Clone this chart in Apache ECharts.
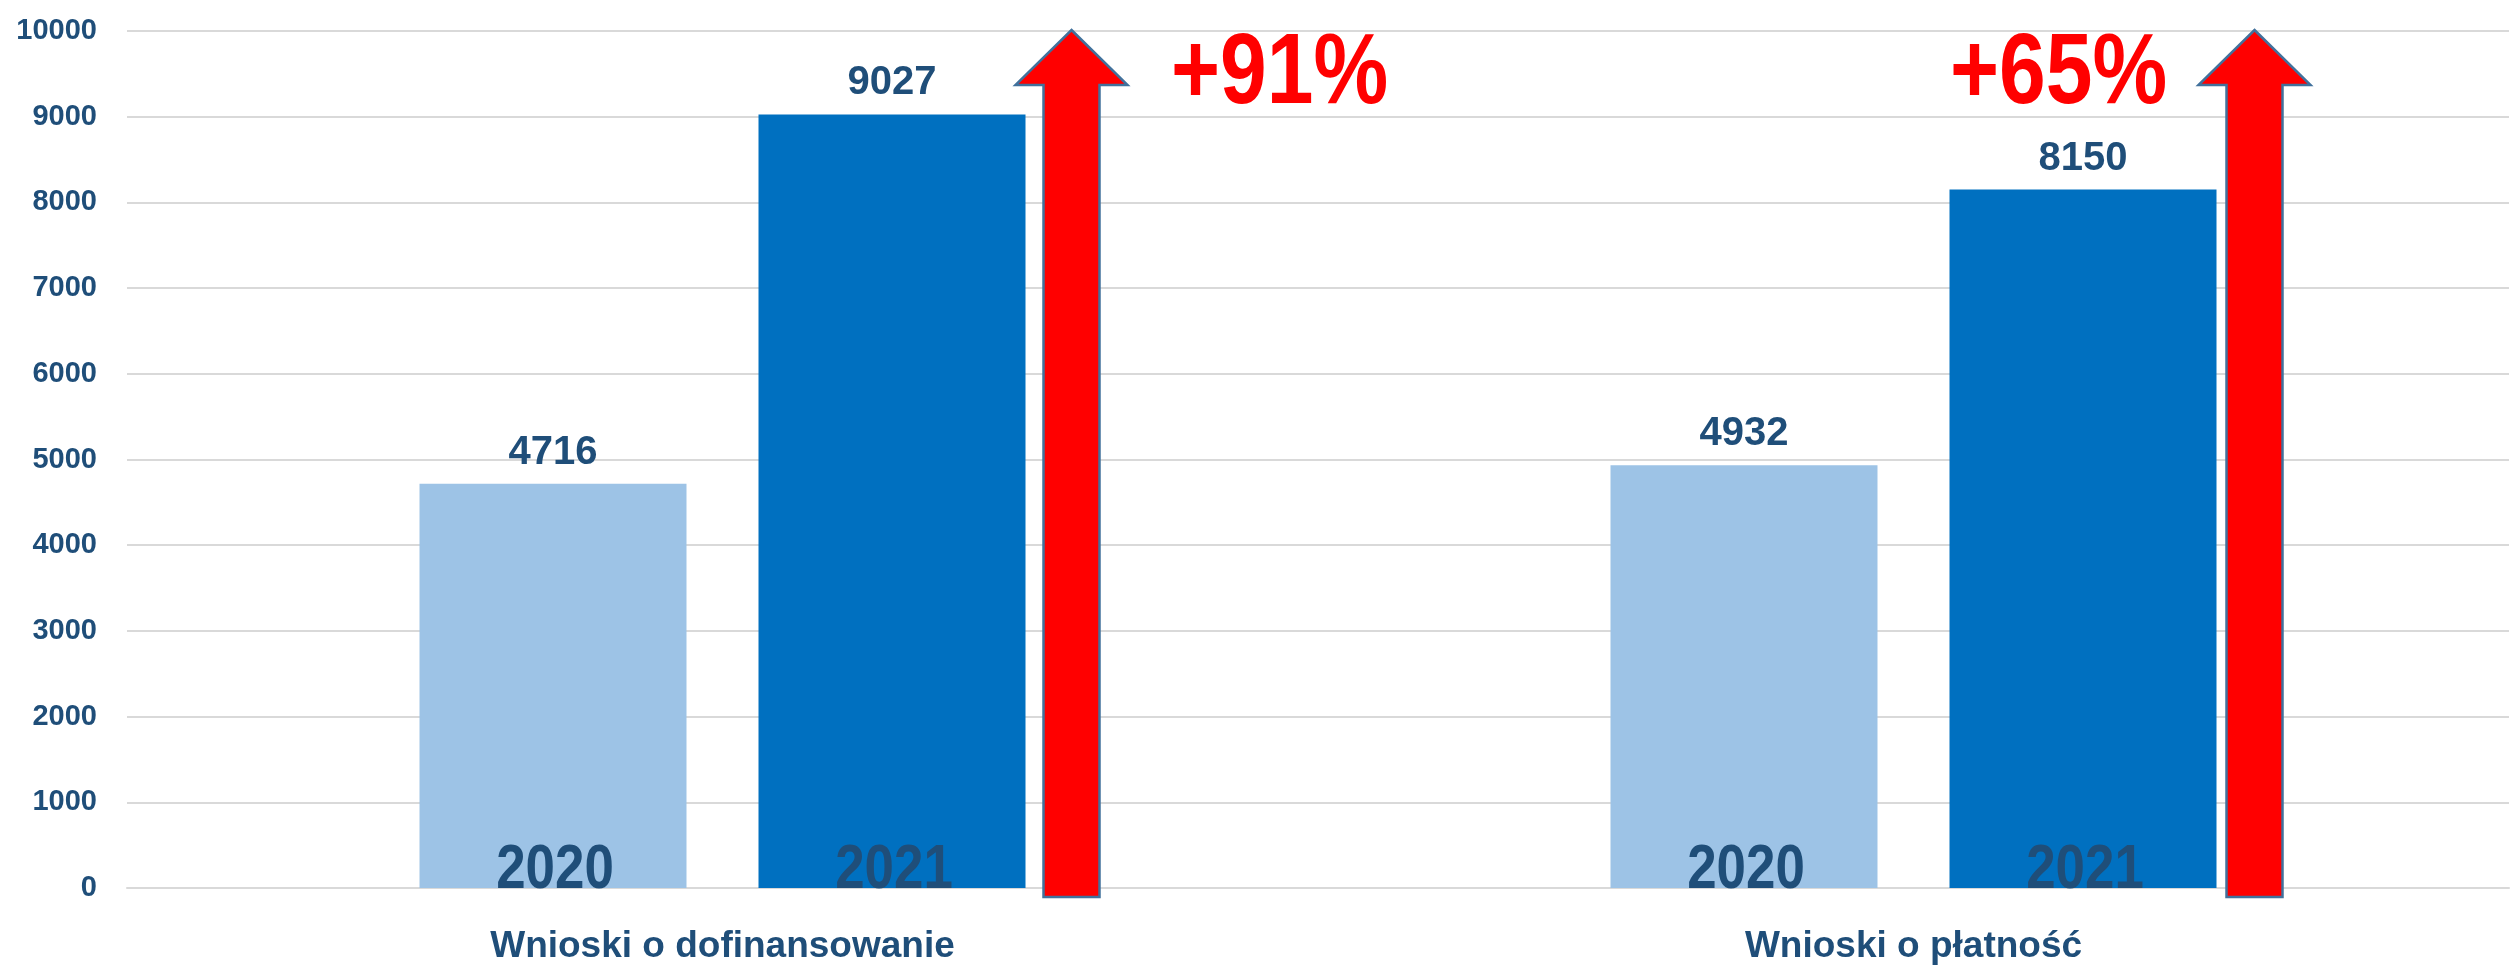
<!DOCTYPE html>
<html>
<head>
<meta charset="utf-8">
<script src="https://cdn.jsdelivr.net/npm/echarts@6/dist/echarts.min.js"></script>
<style>
  html, body { margin: 0; padding: 0; background: #fff; }
  #main { width: 2511px; height: 967px; }
</style>
</head>
<body>
<div id="main"></div>
<script>
// dane
var categories = ['Wnioski o dofinansowanie', 'Wnioski o płatność'];
var years = ['2020', '2021'];
var values2020 = [4716, 4932];
var values2021 = [9027, 8150];
var growth = ['+91%', '+65%'];
var yTicks = [0, 10000, 1000]; // min, max, krok

var FONT = '"Liberation Sans", Arial, sans-serif';
var DARK = '#1F4E79';
var BAR_W = 267;
var BAR_GAP = 72;

var myChart = echarts.init(document.getElementById('main'));

// strzalka + napis procentowy przy kazdej grupie
function renderArrow(params, api) {
	var i = api.value(0);
	var arrowDx = [349, 341];
	var textDx = [557, 145];
	var top = api.coord([i, yTicks[1]]);
	var bottom = api.coord([i, yTicks[0]]);
	var cx = top[0] + arrowDx[i];
	var ty = top[1] - 1;
	var by = bottom[1] + 9;
	var hw = 56, sw = 28, hh = 55;
	return {
		type: 'group',
		children: [
			{
				type: 'polygon',
				shape: {
					points: [
						[cx, ty], [cx + hw, ty + hh], [cx + sw, ty + hh], [cx + sw, by],
						[cx - sw, by], [cx - sw, ty + hh], [cx - hw, ty + hh]
					]
				},
				style: { fill: '#FF0000', stroke: '#41719C', lineWidth: 2.5 }
			},
			{
				// czcionka waska - sciskamy w poziomie
				type: 'text',
				x: top[0] + textDx[i],
				y: top[1] + 44,
				scaleX: 0.84,
				style: {
					text: growth[i],
					x: 0,
					y: 0,
					fill: '#FF0000',
					font: 'bold 100px ' + FONT,
					align: 'center',
					verticalAlign: 'middle'
				}
			}
		]
	};
}

// napisy lat na dole slupkow
function renderYear(params, api) {
	var i = api.value(0);
	var s = api.value(1);
	var p = api.coord([i, 0]);
	var dx = (s === 0 ? -1 : 1) * (BAR_W + BAR_GAP) / 2;
	return {
		type: 'text',
		x: p[0] + dx + 2,
		y: p[1] - 17,
		scaleX: 0.84,
		style: {
			text: years[s],
			x: 0,
			y: 0,
			fill: DARK,
			font: 'bold 63px ' + FONT,
			align: 'center',
			verticalAlign: 'middle'
		}
	};
}

var yearData = [];
categories.forEach(function (c, i) {
	years.forEach(function (y, s) { yearData.push([i, s]); });
});

var valueLabel = {
	show: true,
	position: 'top',
	distance: 11,
	color: DARK,
	fontFamily: FONT,
	fontWeight: 'bold',
	fontSize: 40
};

var option = {
	animation: false,
	grid: { left: 127, right: 2, top: 31, bottom: 79 },
	xAxis: {
		type: 'category',
		data: categories,
		axisTick: { show: false },
		axisLine: { lineStyle: { color: '#D9D9D9', width: 2 } },
		axisLabel: {
			color: DARK,
			fontFamily: FONT,
			fontWeight: 'bold',
			fontSize: 37,
			margin: 40
		}
	},
	yAxis: {
		type: 'value',
		min: yTicks[0],
		max: yTicks[1],
		interval: yTicks[2],
		axisLine: { show: false },
		axisTick: { show: false },
		splitLine: { lineStyle: { color: '#D9D9D9', width: 2 } },
		axisLabel: {
			color: DARK,
			fontFamily: FONT,
			fontWeight: 'bold',
			fontSize: 29,
			margin: 30,
			formatter: function (v) { return String(v); }
		}
	},
	series: [
		{
			name: years[0],
			type: 'bar',
			data: values2020,
			barWidth: BAR_W,
			barGap: (BAR_GAP / BAR_W * 100) + '%',
			itemStyle: { color: '#9DC3E6' },
			label: valueLabel
		},
		{
			name: years[1],
			type: 'bar',
			data: values2021,
			barWidth: BAR_W,
			barGap: (BAR_GAP / BAR_W * 100) + '%',
			itemStyle: { color: '#0070C0' },
			label: valueLabel
		},
		{
			type: 'custom',
			renderItem: renderYear,
			data: yearData,
			z: 5,
			silent: true
		},
		{
			type: 'custom',
			renderItem: renderArrow,
			data: categories.map(function (c, i) { return [i]; }),
			z: 4,
			silent: true
		}
	]
};

myChart.setOption(option);
</script>
</body>
</html>
